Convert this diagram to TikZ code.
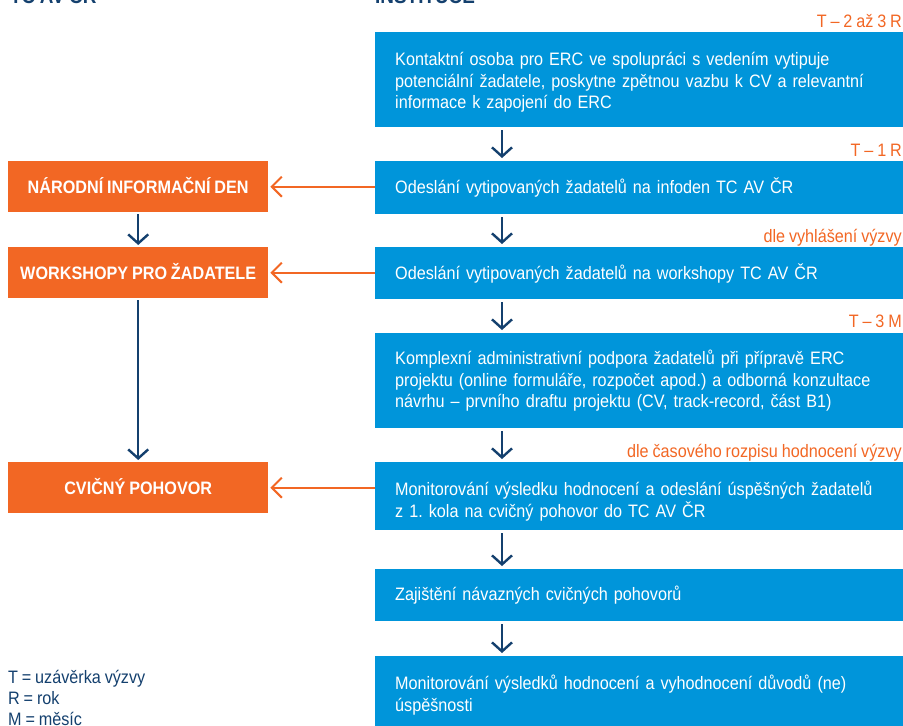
\documentclass[tikz,border=0pt]{standalone}
\usepackage{fontspec}
\setmainfont{Liberation Sans}[FakeStretch=0.9,WordSpace=0.85]
\usetikzlibrary{arrows.meta}
\frenchspacing
\definecolor{boxblue}{RGB}{0,149,218}
\definecolor{boxorange}{RGB}{242,103,36}
\definecolor{darknavy}{RGB}{20,64,110}
\newcommand{\boxfont}{\fontsize{18}{21.5}\selectfont}
\tikzset{
  stepbox/.style={fill=boxblue, text=white, anchor=north west, minimum width=528pt,
    text width=488pt, inner xsep=20pt, inner ysep=0pt, align=left, font=\boxfont},
  textdrop/.style={execute at end node={\par\kern-#1}},
  eventbox/.style={fill=boxorange, text=white, anchor=north west, minimum width=260pt,
    minimum height=51pt, inner sep=0pt, text height=13pt, text depth=0pt, font=\boxfont\bfseries},
  timing/.style={text=boxorange, anchor=base east, inner sep=0pt, font=\boxfont},
  header/.style={text=darknavy, anchor=base west, inner sep=0pt, font=\fontsize{21}{24}\selectfont\bfseries},
  downarrow/.style={draw=darknavy, line width=2.4pt, -{Straight Barb[length=9pt,width=20pt]}},
  sendarrow/.style={draw=boxorange, line width=2pt, -{Straight Barb[length=10pt,width=20pt]}},
}
\begin{document}
\begin{tikzpicture}[x=1pt,y=-1pt]
\useasboundingbox (0,0) rectangle (903,726);
\clip (0,0) rectangle (903,726);
% column heads, cut by the page edge
\node[header] (headtc) at (10,3) {TC AV ČR};
\node[header] (headinst) at (375,3) {INSTITUCE};
% institution steps
\node[stepbox, textdrop=6pt, minimum height=95pt] (s1) at (375,32) {Kontaktní osoba pro ERC ve spolupráci s vedením vytipuje\\potenciální žadatele, poskytne zpětnou vazbu k CV a relevantní\\informace k zapojení do ERC};
\node[stepbox, minimum height=53pt] (s2) at (375,161) {Odeslání vytipovaných žadatelů na infoden TC AV ČR};
\node[stepbox, minimum height=52pt] (s3) at (375,247) {Odeslání vytipovaných žadatelů na workshopy TC AV ČR};
\node[stepbox, minimum height=95pt] (s4) at (375,333) {Komplexní administrativní podpora žadatelů při přípravě ERC\\projektu (online formuláře, rozpočet apod.) a odborná konzultace\\návrhu – prvního draftu projektu (CV, track-record, část B1)};
\node[stepbox, textdrop=10pt, minimum height=68pt] (s5) at (375,462) {Monitorování výsledku hodnocení a odeslání úspěšných žadatelů\\z 1. kola na cvičný pohovor do TC AV ČR};
\node[stepbox, minimum height=52pt] (s6) at (375,569) {Zajištění návazných cvičných pohovorů};
\node[stepbox, textdrop=8pt, minimum height=70pt] (s7) at (375,656) {Monitorování výsledků hodnocení a vyhodnocení důvodů (ne)\\úspěšnosti};
% TC AV CR events
\node[eventbox] (e1) at (8,161) {NÁRODNÍ INFORMAČNÍ DEN};
\node[eventbox] (e2) at (8,247) {WORKSHOPY PRO ŽADATELE};
\node[eventbox] (e3) at (8,462) {CVIČNÝ POHOVOR};
% timing
\node[timing] (t1) at (902,27) {T – 2 až 3 R};
\node[timing] (t2) at (902,156) {T – 1 R};
\node[timing] (t3) at (902,242) {dle vyhlášení výzvy};
\node[timing] (t4) at (902,327) {T – 3 M};
\node[timing] (t5) at (902,457) {dle časového rozpisu hodnocení výzvy};
% arrows
\foreach \a/\b in {s1/s2,s2/s3,s3/s4,s4/s5,s5/s6,s6/s7}{
  \draw[downarrow] ([xshift=127pt,yshift=-3pt]\a.south west) -- ([xshift=127pt,yshift=3pt]\b.north west);
}
\foreach \a/\b in {e1/e2,e2/e3}{
  \draw[downarrow] ([yshift=-2pt]\a.south) -- ([yshift=2pt]\b.north);
}
\foreach \a/\b in {s2/e1,s3/e2,s5/e3}{
  \draw[sendarrow] (\a.west |- \b.east) -- ([xshift=2pt]\b.east);
}
% legend
\node[text=darknavy, anchor=base west, inner sep=0pt, align=left, font=\fontsize{18}{21}\selectfont] (legend) at (8,725) {T = uzávěrka výzvy\\R = rok\\M = měsíc};
\end{tikzpicture}
\end{document}
